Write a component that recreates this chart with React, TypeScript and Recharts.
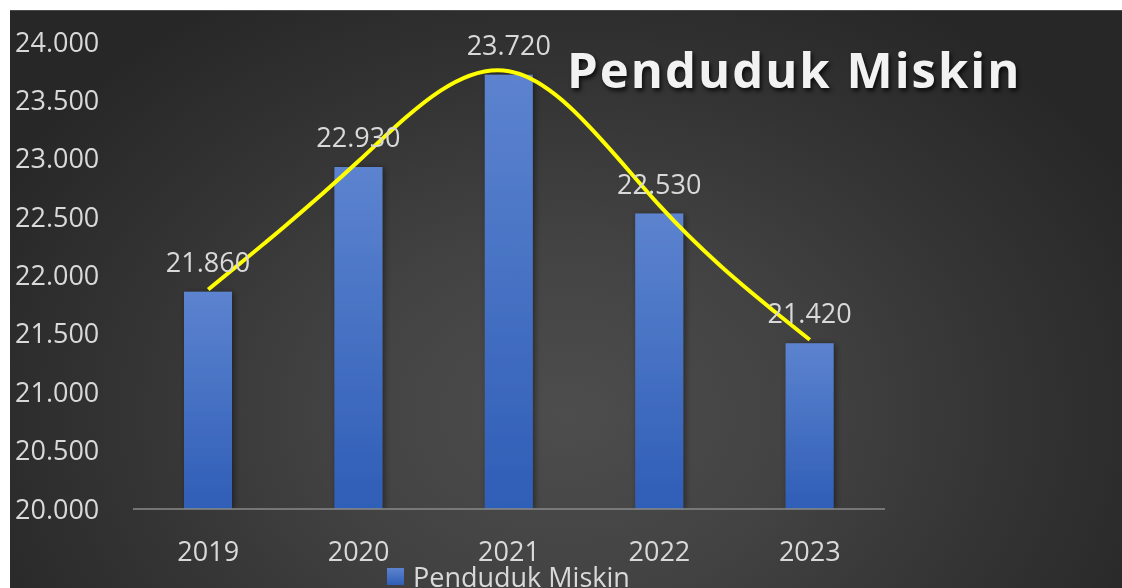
import { ComposedChart, Bar, Line, XAxis, YAxis, LabelList } from 'recharts';

const years = ['2019', '2020', '2021', '2022', '2023'];
const miskin = [21860, 22930, 23720, 22530, 21420];
// yellow smoothed line sits a few px above the bar tops
const trend = [21880, 22980, 23750, 22600, 21450];
const yTicks = [20000, 20500, 21000, 21500, 22000, 22500, 23000, 23500, 24000];

const seriesName = 'Penduduk Miskin';
const titleText = 'Penduduk Miskin';

const data = years.map((y, i) => ({ year: y, [seriesName]: miskin[i], trend: trend[i] }));

const FONT = '"Open Sans", "Noto Sans", sans-serif';
const TEXT = '#d9d9d9';

// 20000 -> "20.000"
const fmt = (v: number) => String(Math.round(v)).replace(/\B(?=(\d{3})+(?!\d))/g, '.');

const YTick = (props: any) => {
  const { y, payload } = props;
  return (
    <text x={5} y={y} dy="0.355em" textAnchor="start" fill={TEXT} fontSize={27} fontFamily={FONT}>
      {fmt(payload.value)}
    </text>
  );
};

export default function App() {
  return (
    <div
      style={{
        position: 'fixed',
        left: 10,
        top: 10,
        width: 1112,
        height: 578,
        overflow: 'hidden',
        borderTop: '1px solid #4a4a4a',
        boxSizing: 'border-box',
        background:
          'radial-gradient(ellipse 58% 85% at 50% 70%, #4d4d4d 0%, #434343 35%, #333333 70%, #272727 100%)',
        fontFamily: FONT,
      }}
    >
      <ComposedChart
        width={1112}
        height={578}
        data={data}
        margin={{ top: 32, right: 237, bottom: 0, left: 3 }}
        style={{ position: 'absolute', left: 0, top: -1 }}
      >
        <defs>
          <linearGradient id="barGrad" x1="0" y1="0" x2="0" y2="1">
            <stop offset="0%" stopColor="#5c83cf" />
            <stop offset="100%" stopColor="#2f5eb7" />
          </linearGradient>
          <filter id="barShadow" x="-30%" y="-5%" width="160%" height="110%">
            <feDropShadow dx="2" dy="1" stdDeviation="3" floodColor="#000" floodOpacity="0.45" />
          </filter>
        </defs>
        <XAxis
          dataKey="year"
          axisLine={{ stroke: '#8a8a8a', strokeWidth: 1.5 }}
          tickLine={false}
          tickMargin={27}
          tick={{ fill: TEXT, fontSize: 27, fontFamily: FONT }}
          height={79}
        />
        <YAxis
          domain={[20000, 24000]}
          ticks={yTicks}
          axisLine={false}
          tickLine={false}
          width={120}
          tick={<YTick />}
          allowDataOverflow
        />
        <Bar
          dataKey={seriesName}
          barSize={48}
          fill="url(#barGrad)"
          filter="url(#barShadow)"
          isAnimationActive={false}
        >
          <LabelList
            dataKey={seriesName}
            position="top"
            offset={20}
            formatter={(v: any) => fmt(Number(v))}
            style={{ fill: TEXT, fontSize: 27, fontFamily: FONT }}
          />
        </Bar>
        <Line
          dataKey="trend"
          type="natural"
          stroke="#ffff00"
          strokeWidth={4}
          dot={false}
          activeDot={false}
          legendType="none"
          isAnimationActive={false}
        />
      </ComposedChart>

      <div
        style={{
          position: 'absolute',
          left: 557,
          top: 34,
          fontSize: 49,
          fontWeight: 700,
          letterSpacing: 2,
          color: '#f2f2f2',
          whiteSpace: 'nowrap',
          lineHeight: 1,
          textShadow: '2px 3px 4px rgba(0,0,0,0.75)',
        }}
      >
        {titleText}
      </div>

      <div
        style={{
          position: 'absolute',
          left: 377,
          top: 552,
          display: 'flex',
          alignItems: 'center',
          whiteSpace: 'nowrap',
          color: TEXT,
          fontSize: 27,
          lineHeight: 1,
        }}
      >
        <span
          style={{
            display: 'inline-block',
            width: 17,
            height: 17,
            marginRight: 9,
            background: 'linear-gradient(#5c83cf, #2f5eb7)',
          }}
        />
        <span>{seriesName}</span>
      </div>
    </div>
  );
}
